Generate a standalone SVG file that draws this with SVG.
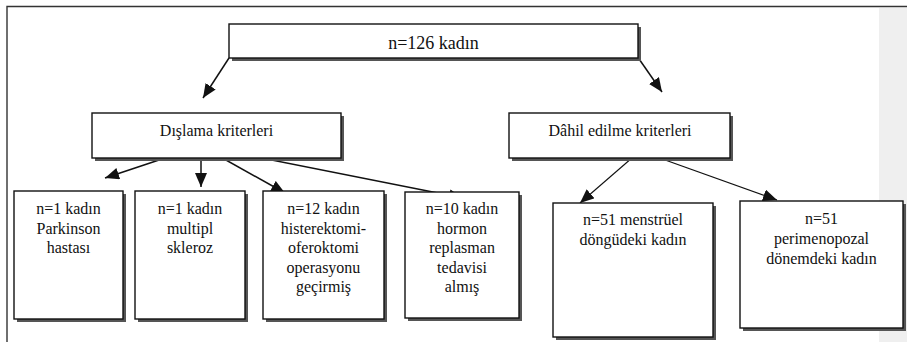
<svg xmlns="http://www.w3.org/2000/svg" width="907" height="342" viewBox="0 0 907 342">
<style>
.box{fill:#fff;stroke:#111;stroke-width:1.4}
.sh{fill:#555}
text{font-family:'Liberation Serif','Times New Roman',serif;font-size:16px;fill:#111;text-anchor:middle}
.big{font-size:18px}
.c{stroke:#111;stroke-width:1.5;fill:none;marker-end:url(#ah)}
.c2{stroke:#111;stroke-width:1.1;fill:none;marker-end:url(#ah)}
</style>
<defs>
<marker id="ah" markerUnits="userSpaceOnUse" markerWidth="16" markerHeight="14" refX="14" refY="6" orient="auto">
<path d="M0,0 L14,6 L0,12 z" fill="#111"/>
</marker>
</defs>
<rect x="0" y="0" width="907" height="342" fill="#fff"/>
<rect x="879" y="8" width="28" height="334" fill="#efefef"/>
<path d="M7,342 V6.5 H907" fill="none" stroke="#333" stroke-width="1.4"/>

<g id="connectors">
<line class="c" x1="229" y1="58" x2="203" y2="98"/>
<line class="c" x1="637" y1="56" x2="662" y2="92"/>
<line class="c" x1="201" y1="146" x2="105" y2="178"/>
<line class="c" x1="201" y1="146" x2="201" y2="187"/>
<line class="c" x1="201" y1="146" x2="285" y2="193"/>
<line class="c" x1="201" y1="146" x2="463" y2="198"/>
<line class="c2" x1="640" y1="151" x2="580" y2="203"/>
<line class="c2" x1="640" y1="151" x2="777" y2="200"/>
</g>

<g id="n0">
<rect class="sh" x="232" y="27" width="409" height="34"/>
<rect class="box" x="229" y="24" width="409" height="34"/>
<text class="big" x="433.5" y="49">n=126 kadın</text>
</g>
<g id="n1">
<rect class="sh" x="95" y="116" width="249" height="45"/>
<rect class="box" x="92" y="113" width="249" height="45"/>
<text x="216.5" y="136">Dışlama kriterleri</text>
</g>
<g id="n2">
<rect class="sh" x="512" y="116" width="221" height="45"/>
<rect class="box" x="509" y="113" width="221" height="45"/>
<text x="620" y="136">Dâhil edilme kriterleri</text>
</g>
<g id="n3">
<rect class="sh" x="17" y="194" width="109" height="128"/>
<rect class="box" x="14" y="191" width="109" height="128"/>
<text x="68.5" y="214">n=1 kadın</text>
<text x="68.5" y="233.5">Parkinson</text>
<text x="68.5" y="253">hastası</text>
</g>
<g id="n4">
<rect class="sh" x="138" y="194" width="110" height="128"/>
<rect class="box" x="135" y="191" width="110" height="128"/>
<text x="190" y="214">n=1 kadın</text>
<text x="190" y="233.5">multipl</text>
<text x="190" y="253">skleroz</text>
</g>
<g id="n5">
<rect class="sh" x="266" y="194" width="121" height="128"/>
<rect class="box" x="263" y="191" width="121" height="128"/>
<text x="323.5" y="214">n=12 kadın</text>
<text x="323.5" y="233.5">histerektomi-</text>
<text x="323.5" y="253">oferoktomi</text>
<text x="323.5" y="272.5">operasyonu</text>
<text x="323.5" y="292">geçirmiş</text>
</g>
<g id="n6">
<rect class="sh" x="408" y="195" width="114" height="126"/>
<rect class="box" x="405" y="192" width="114" height="126"/>
<text x="462" y="214">n=10 kadın</text>
<text x="462" y="233.5">hormon</text>
<text x="462" y="253">replasman</text>
<text x="462" y="272.5">tedavisi</text>
<text x="462" y="292">almış</text>
</g>
<g id="n7">
<rect class="sh" x="556" y="206" width="160" height="134"/>
<rect class="box" x="553" y="203" width="160" height="134"/>
<text x="633" y="225">n=51 menstrüel</text>
<text x="633" y="245">döngüdeki kadın</text>
</g>
<g id="n8">
<rect class="sh" x="743" y="204" width="163" height="127"/>
<rect class="box" x="740" y="201" width="163" height="127"/>
<text x="821.5" y="224">n=51</text>
<text x="821.5" y="244">perimenopozal</text>
<text x="821.5" y="264">dönemdeki kadın</text>
</g>
</svg>
